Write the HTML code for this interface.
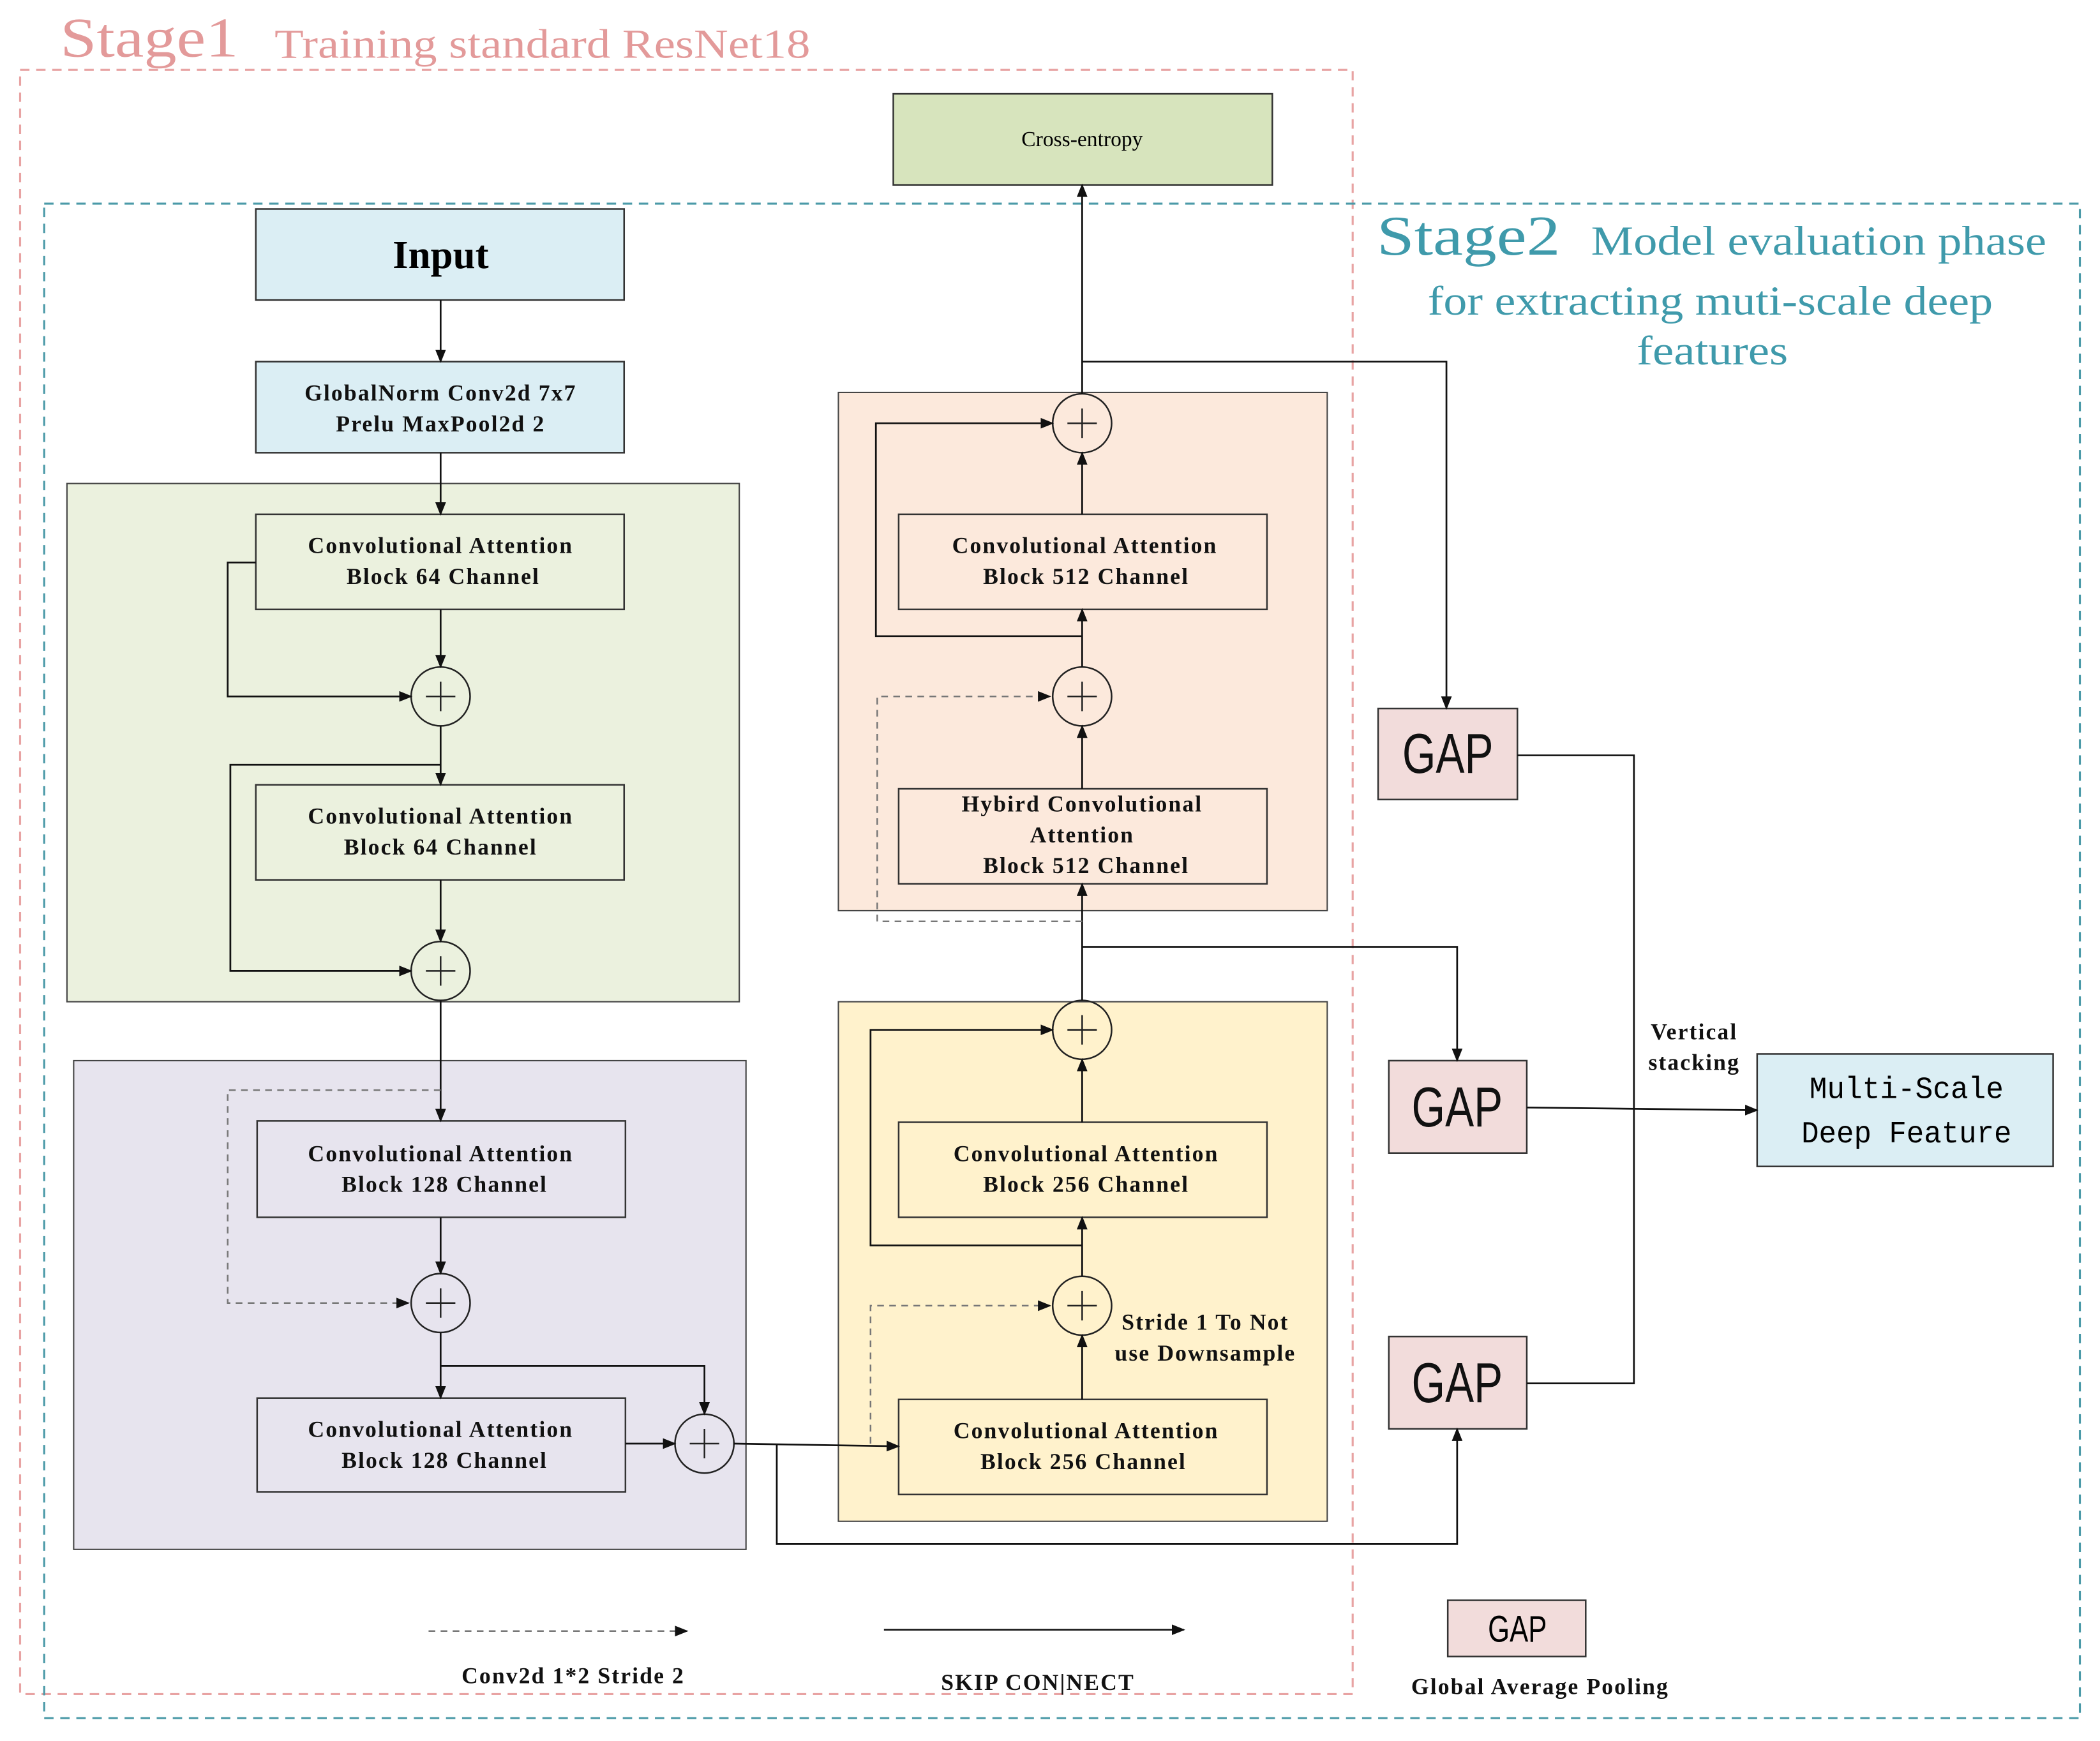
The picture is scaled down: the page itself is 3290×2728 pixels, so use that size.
<!DOCTYPE html>
<html><head><meta charset="utf-8"><style>
html,body{margin:0;padding:0;background:#fff;width:3290px;height:2728px;overflow:hidden}
svg{display:block}
.b{font-family:"Liberation Serif",serif;font-weight:bold;font-size:17px;fill:#111;text-anchor:middle;letter-spacing:1px}
.g{font-family:"Liberation Sans",sans-serif;font-size:42px;fill:#111;text-anchor:start}
</style></head><body>
<svg width="3290" height="2728" viewBox="0 0 1568 1300" xmlns="http://www.w3.org/2000/svg">
<defs><marker id="a" markerWidth="10" markerHeight="10" refX="9" refY="5" orient="auto" markerUnits="userSpaceOnUse"><path d="M0,1 L10,5 L0,9 z" fill="#111"/></marker></defs>
<rect x="50" y="361" width="502" height="387" fill="#ebf1de" stroke="#444" stroke-width="1"/>
<rect x="55" y="792" width="502" height="365" fill="#e7e4ee" stroke="#444" stroke-width="1"/>
<rect x="626" y="293" width="365" height="387" fill="#fce9dc" stroke="#444" stroke-width="1"/>
<rect x="626" y="748" width="365" height="388" fill="#fff2cc" stroke="#444" stroke-width="1"/>
<rect x="15" y="52" width="995" height="1213" fill="none" stroke="#e8a3a3" stroke-width="1.5" stroke-dasharray="7,5"/>
<rect x="33" y="152" width="1520" height="1131" fill="none" stroke="#4b9aa8" stroke-width="1.5" stroke-dasharray="7,5"/>
<text x="45" y="42" font-family="Liberation Serif,serif" font-size="42" fill="#e39a9a" textLength="133" lengthAdjust="spacingAndGlyphs">Stage1</text>
<text x="205" y="43" font-family="Liberation Serif,serif" font-size="31" fill="#e39a9a" textLength="400" lengthAdjust="spacingAndGlyphs">Training standard ResNet18</text>
<text x="1028" y="190" font-family="Liberation Serif,serif" font-size="42" fill="#3f9aab" textLength="137" lengthAdjust="spacingAndGlyphs">Stage2</text>
<text x="1188" y="190" font-family="Liberation Serif,serif" font-size="31" fill="#3f9aab" textLength="340" lengthAdjust="spacingAndGlyphs">Model evaluation phase</text>
<text x="1066" y="235" font-family="Liberation Serif,serif" font-size="31" fill="#3f9aab" textLength="422" lengthAdjust="spacingAndGlyphs">for extracting muti-scale deep</text>
<text x="1222" y="272" font-family="Liberation Serif,serif" font-size="31" fill="#3f9aab" textLength="113" lengthAdjust="spacingAndGlyphs">features</text>
<g stroke="#333" stroke-width="1.2">
<rect x="667" y="70" width="283" height="68" fill="#d7e4bd"/>
<rect x="191" y="156" width="275" height="68" fill="#dbeef4"/>
<rect x="191" y="270" width="275" height="68" fill="#dbeef4"/>
<rect x="191" y="384" width="275" height="71" fill="none"/>
<rect x="191" y="586" width="275" height="71" fill="none"/>
<rect x="192" y="837" width="275" height="72" fill="none"/>
<rect x="192" y="1044" width="275" height="70" fill="none"/>
<rect x="671" y="384" width="275" height="71" fill="none"/>
<rect x="671" y="589" width="275" height="71" fill="none"/>
<rect x="671" y="838" width="275" height="71" fill="none"/>
<rect x="671" y="1045" width="275" height="71" fill="none"/>
<rect x="1029" y="529" width="104" height="68" fill="#f2dcdb"/>
<rect x="1037" y="792" width="103" height="69" fill="#f2dcdb"/>
<rect x="1037" y="998" width="103" height="69" fill="#f2dcdb"/>
<rect x="1312" y="787" width="221" height="84" fill="#dbeef4"/>
<rect x="1081" y="1195" width="103" height="42" fill="#f2dcdb"/>
</g>
<text x="808" y="109" text-anchor="middle" font-family="Liberation Serif,serif" font-size="16">Cross-entropy</text>
<text x="329" y="200" text-anchor="middle" font-family="Liberation Serif,serif" font-weight="bold" font-size="30">Input</text>
<text class="b" x="329" y="299">GlobalNorm Conv2d 7x7</text><text class="b" x="329" y="322">Prelu MaxPool2d 2</text>
<text class="b" x="329" y="413">Convolutional Attention</text><text class="b" x="331" y="436">Block 64 Channel</text>
<text class="b" x="329" y="615">Convolutional Attention</text><text class="b" x="329" y="638">Block 64 Channel</text>
<text class="b" x="329" y="867">Convolutional Attention</text><text class="b" x="332" y="890">Block 128 Channel</text>
<text class="b" x="329" y="1073">Convolutional Attention</text><text class="b" x="332" y="1096">Block 128 Channel</text>
<text class="b" x="810" y="413">Convolutional Attention</text><text class="b" x="811" y="436">Block 512 Channel</text>
<text class="b" x="808" y="606">Hybird Convolutional</text><text class="b" x="808" y="629">Attention</text><text class="b" x="811" y="652">Block 512 Channel</text>
<text class="b" x="811" y="867">Convolutional Attention</text><text class="b" x="811" y="890">Block 256 Channel</text>
<text class="b" x="811" y="1074">Convolutional Attention</text><text class="b" x="809" y="1097">Block 256 Channel</text>
<text class="g" x="1047" y="577" textLength="68" lengthAdjust="spacingAndGlyphs">GAP</text>
<text class="g" x="1054" y="841" textLength="68" lengthAdjust="spacingAndGlyphs">GAP</text>
<text class="g" x="1054" y="1047" textLength="68" lengthAdjust="spacingAndGlyphs">GAP</text>
<text x="1111" y="1226" font-family="Liberation Sans,sans-serif" font-size="28" textLength="44" lengthAdjust="spacingAndGlyphs">GAP</text>
<text x="1351" y="820" font-family="Liberation Mono,monospace" font-size="23" textLength="145" lengthAdjust="spacingAndGlyphs">Multi-Scale</text>
<text x="1345" y="853" font-family="Liberation Mono,monospace" font-size="23" textLength="157" lengthAdjust="spacingAndGlyphs">Deep Feature</text>
<text class="b" x="1265" y="776">Vertical</text><text class="b" x="1265" y="799">stacking</text>
<text class="b" x="900" y="993">Stride 1 To Not</text><text class="b" x="900" y="1016">use Downsample</text>
<text class="b" x="428" y="1257">Conv2d 1*2 Stride 2</text>
<text class="b" x="775" y="1262">SKIP CON|NECT</text>
<text class="b" x="1150" y="1265">Global Average Pooling</text>
<g fill="none" stroke="#222" stroke-width="1.2">
<circle cx="329" cy="520" r="22"/><circle cx="329" cy="725" r="22"/><circle cx="329" cy="973" r="22"/><circle cx="526" cy="1078" r="22"/>
<circle cx="808" cy="316" r="22"/><circle cx="808" cy="520" r="22"/><circle cx="808" cy="769" r="22"/><circle cx="808" cy="975" r="22"/>
</g>
<g stroke="#222" stroke-width="1.2">
<path d="M329,509v22M318,520h22M329,714v22M318,725h22M329,962v22M318,973h22M526,1067v22M515,1078h22M808,305v22M797,316h22M808,509v22M797,520h22M808,758v22M797,769h22M808,964v22M797,975h22"/>
</g>
<g fill="none" stroke="#111" stroke-width="1.3" marker-end="url(#a)">
<path d="M329,224V270"/><path d="M329,338V384"/><path d="M329,455V498"/>
<path d="M191,420H170V520H307"/><path d="M329,542V586"/><path d="M329,571H172V725H307"/>
<path d="M329,657V703"/><path d="M329,747V837"/><path d="M329,909V951"/><path d="M329,995V1044"/>
<path d="M329,1020H526V1056"/><path d="M467,1078H504"/><path d="M548,1078L671,1080"/>
<path d="M580,1078V1153H1088V1067"/>
<path d="M808,1045V997"/><path d="M808,953V909"/><path d="M808,930H650V769H786"/><path d="M808,838V791"/>
<path d="M808,747V660"/><path d="M808,707H1088V792"/>
<path d="M808,589V542"/><path d="M808,498V455"/><path d="M808,475H654V316H786"/><path d="M808,384V338"/>
<path d="M808,294V138"/><path d="M808,270H1080V529"/>
<path d="M1140,827L1312,829"/>
<path d="M660,1217H884"/>
</g>
<path d="M1133,564H1220V1033H1140" fill="none" stroke="#111" stroke-width="1.3"/>
<g fill="none" stroke="#777" stroke-width="1.2" stroke-dasharray="5,4">
<path d="M329,814H170V973H305" marker-end="url(#a)"/>
<path d="M650,1078V975H784" marker-end="url(#a)"/>
<path d="M808,688H655V520H784" marker-end="url(#a)"/>
<path d="M320,1218H513" marker-end="url(#a)"/>
</g>
</svg>
</body></html>
